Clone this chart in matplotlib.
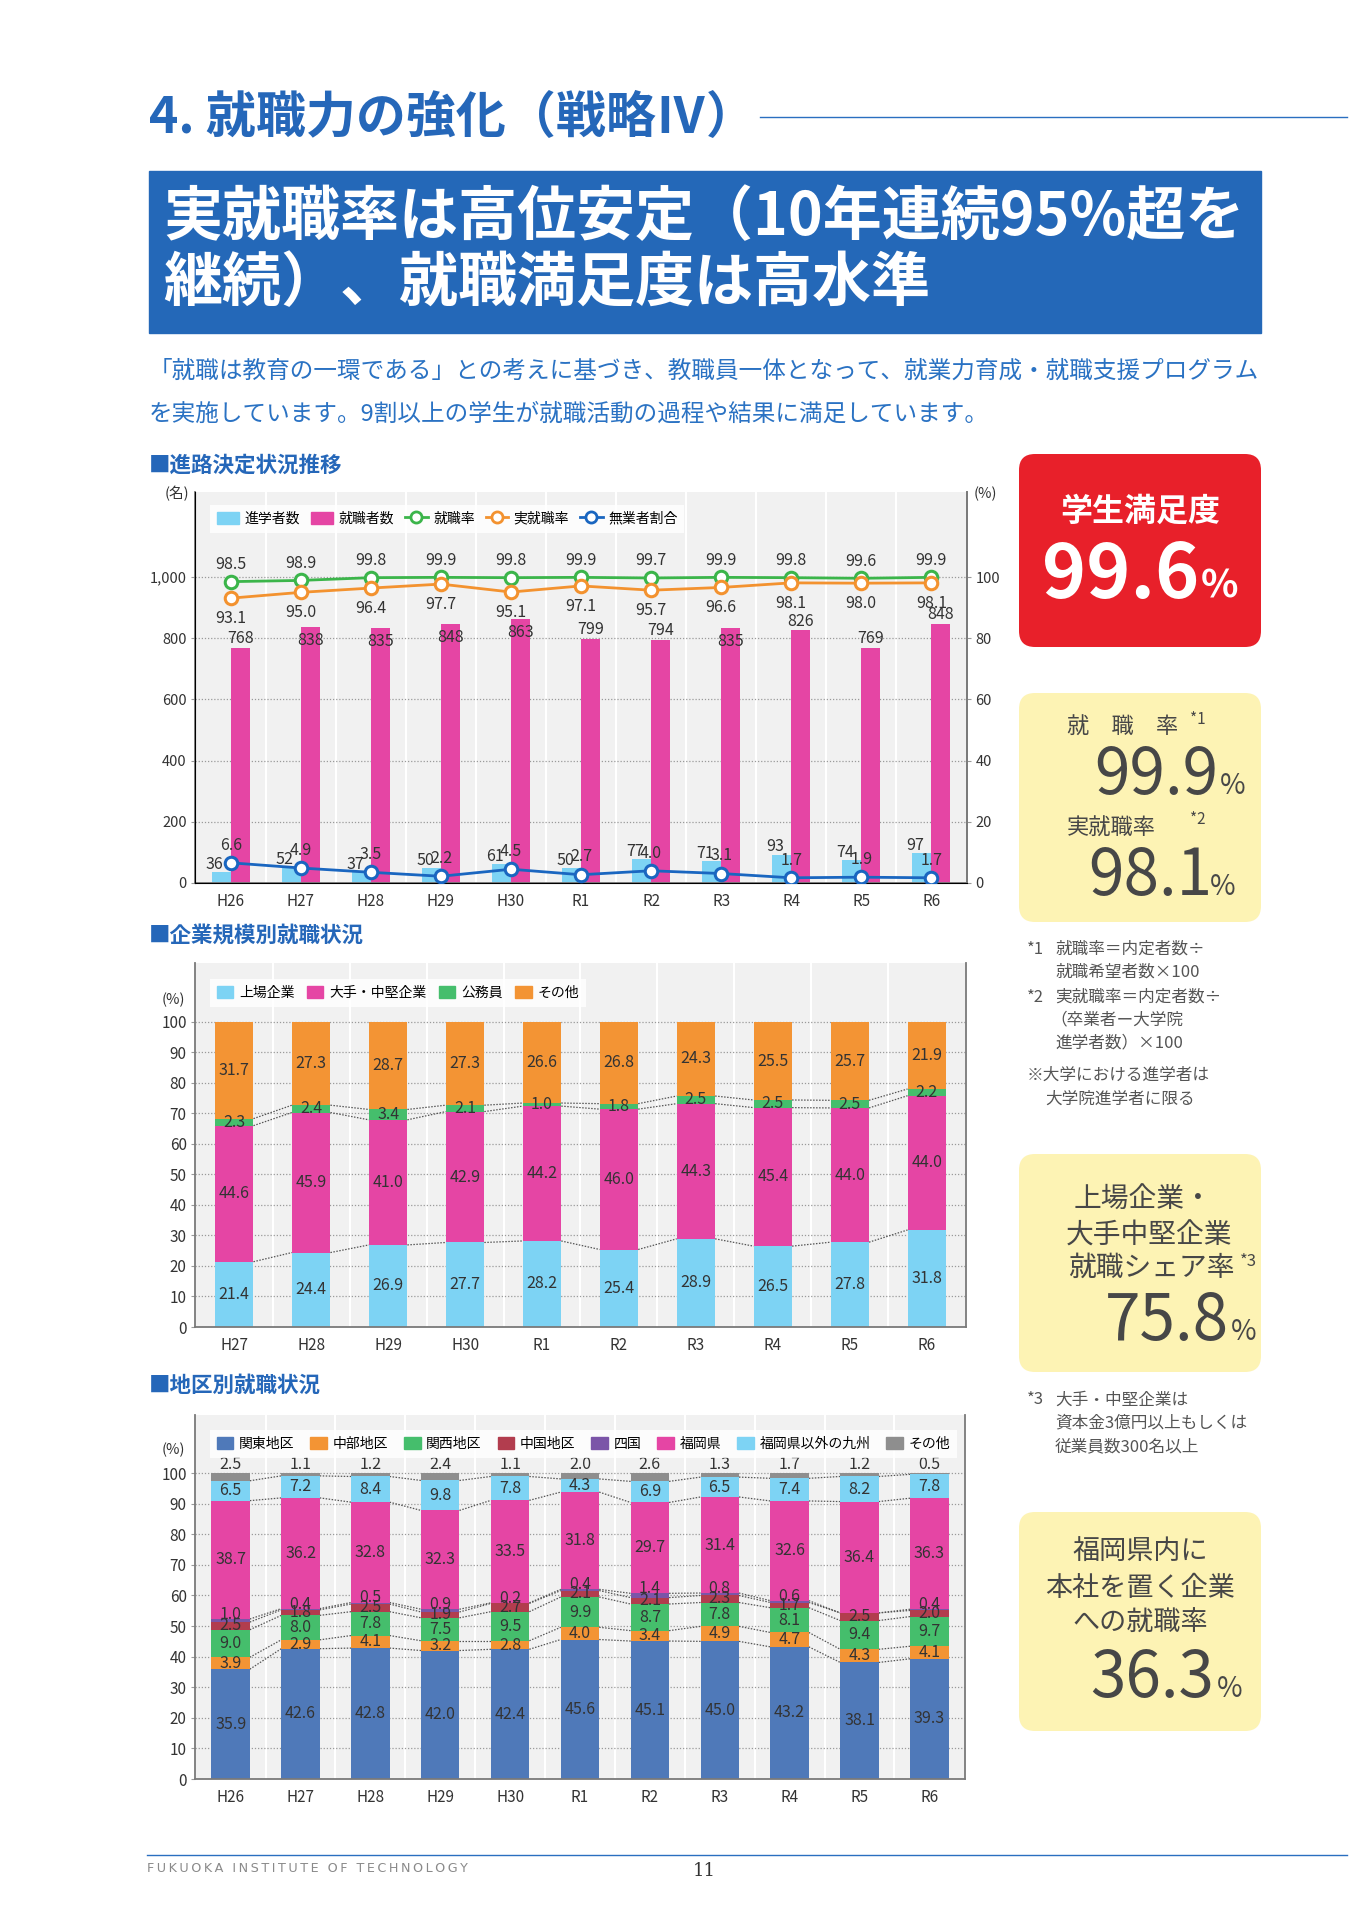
import numpy as np
import matplotlib.pyplot as plt
from matplotlib.patches import FancyBboxPatch, Patch, Rectangle
from matplotlib.lines import Line2D

plt.rcParams['font.family'] = ['Noto Sans CJK JP', 'DejaVu Sans']

# ---- data: 進路決定状況推移 ----
years_a = ['H26', 'H27', 'H28', 'H29', 'H30', 'R1', 'R2', 'R3', 'R4', 'R5', 'R6']
n_grad = [36, 52, 37, 50, 61, 50, 77, 71, 93, 74, 97]
n_employed = [768, 838, 835, 848, 863, 799, 794, 835, 826, 769, 848]
emp_rate = [98.5, 98.9, 99.8, 99.9, 99.8, 99.9, 99.7, 99.9, 99.8, 99.6, 99.9]
real_rate = [93.1, 95.0, 96.4, 97.7, 95.1, 97.1, 95.7, 96.6, 98.1, 98.0, 98.1]
jobless = [6.6, 4.9, 3.5, 2.2, 4.5, 2.7, 4.0, 3.1, 1.7, 1.9, 1.7]

# ---- data: 企業規模別就職状況 ----
years_b = ['H27', 'H28', 'H29', 'H30', 'R1', 'R2', 'R3', 'R4', 'R5', 'R6']
size_names = ['上場企業', '大手・中堅企業', '公務員', 'その他']
size_listed = [21.4, 24.4, 26.9, 27.7, 28.2, 25.4, 28.9, 26.5, 27.8, 31.8]
size_major = [44.6, 45.9, 41.0, 42.9, 44.2, 46.0, 44.3, 45.4, 44.0, 44.0]
size_public = [2.3, 2.4, 3.4, 2.1, 1.0, 1.8, 2.5, 2.5, 2.5, 2.2]
size_other = [31.7, 27.3, 28.7, 27.3, 26.6, 26.8, 24.3, 25.5, 25.7, 21.9]

# ---- data: 地区別就職状況 ----
region_names = ['関東地区', '中部地区', '関西地区', '中国地区', '四国', '福岡県',
                '福岡県以外の九州', 'その他']
kanto = [35.9, 42.6, 42.8, 42.0, 42.4, 45.6, 45.1, 45.0, 43.2, 38.1, 39.3]
chubu = [3.9, 2.9, 4.1, 3.2, 2.8, 4.0, 3.4, 4.9, 4.7, 4.3, 4.1]
kansai = [9.0, 8.0, 7.8, 7.5, 9.5, 9.9, 8.7, 7.8, 8.1, 9.4, 9.7]
chugoku = [2.5, 1.8, 2.5, 1.9, 2.7, 2.1, 2.1, 2.3, 1.7, 2.5, 2.0]
shikoku = [1.0, 0.4, 0.5, 0.9, 0.2, 0.4, 1.4, 0.8, 0.6, 0.0, 0.4]
fukuoka = [38.7, 36.2, 32.8, 32.3, 33.5, 31.8, 29.7, 31.4, 32.6, 36.4, 36.3]
kyushu = [6.5, 7.2, 8.4, 9.8, 7.8, 4.3, 6.9, 6.5, 7.4, 8.2, 7.8]
region_other = [2.5, 1.1, 1.2, 2.4, 1.1, 2.0, 2.6, 1.3, 1.7, 1.2, 0.5]

BLUE = '#2567b9'
LBLUE = '#7dd3f4'
PINK = '#e545a4'
GREEN = '#45be6c'
ORANGE = '#f39434'
TXT = '#333333'

W, H = 1358, 1920
fig = plt.figure(figsize=(W / 100, H / 100), dpi=100)
page = fig.add_axes([0, 0, 1, 1], zorder=0)
page.set_xlim(0, W)
page.set_ylim(H, 0)
page.axis('off')


def px_axes(l, t, r, b):
    return fig.add_axes([l / W, 1 - b / H, (r - l) / W, (b - t) / H], zorder=2)


def style_axes(ax, n, ysize=11):
    ax.set_facecolor('#f1f1f1')
    ax.set_xlim(-0.51, n - 0.49)
    for b in np.arange(n - 1) + 0.5:
        ax.axvline(b, color='white', lw=1.5, zorder=0.3)
    ax.yaxis.grid(True, ls=(0, (1, 1.5)), color='#9a9a9a', lw=0.9)
    ax.set_axisbelow(True)
    ax.spines['top'].set_visible(False)
    for s in ['left', 'bottom', 'right']:
        ax.spines[s].set_color('#7a7a7a')
        ax.spines[s].set_linewidth(1.3)
    ax.tick_params(axis='x', length=0, labelsize=11, pad=7, colors=TXT)
    ax.tick_params(axis='y', length=3, color='#999999', labelsize=ysize,
                   labelcolor=TXT, pad=3)


def connectors(ax, cums, width):
    for c in cums:
        for i in range(len(c) - 1):
            ax.plot([i + width / 2, i + 1 - width / 2], [c[i], c[i + 1]],
                    ls=(0, (1.2, 1.2)), color='#555555', lw=0.9, zorder=1.5)


# ================= chart 1 =================
x = np.arange(len(years_a))
ax1 = px_axes(195, 492, 967, 883)
style_axes(ax1, len(years_a), ysize=10.5)
ax1.bar(x - 0.135, n_grad, width=0.27, color=LBLUE, zorder=2)
ax1.bar(x + 0.135, n_employed, width=0.27, color=PINK, zorder=2)
ax1.set_ylim(0, 1278)
ax1.set_yticks(range(0, 1001, 200))
ax1.set_yticklabels([f'{v:,}' for v in range(0, 1001, 200)])
ax1.set_xticks(x)
ax1.set_xticklabels(years_a)
for i, v in enumerate(n_grad):
    ax1.text(i - 0.1, v + 25, str(v), ha='right', va='center', fontsize=11.5, color=TXT, zorder=5)
for i, v in enumerate(n_employed):
    # put the count inside the bar top when the 実就職率 label sits right above it
    rate_label = (real_rate[i] - 6.6) * 10
    y = v + 30 if rate_label - (v + 30) > 36 else v - 45
    ax1.text(i + 0.135, y, str(v), ha='center', va='center', fontsize=11.5, color=TXT, zorder=5)

ax2 = ax1.twinx()
ax2.set_zorder(3)
ax2.set_ylim(0, 127.8)
ax2.set_yticks(range(0, 101, 20))
ax2.spines['top'].set_visible(False)
ax2.spines['right'].set_color('#7a7a7a')
ax2.spines['right'].set_linewidth(1.3)
ax2.tick_params(axis='y', length=3, color='#999999', labelsize=10.5, labelcolor=TXT, pad=3)

line_styles = [(emp_rate, '#3bb54a', 5.6), (real_rate, '#f3922f', -6.6), (jobless, '#1a66c0', 5.8)]
for vals, col, off in line_styles:
    ax2.plot(x, vals, color=col, lw=2, marker='o', ms=9, mfc='white', mec=col, mew=2.2, zorder=4)
    for i, v in enumerate(vals):
        ax2.text(i, v + off, f'{v:.1f}', ha='center', va='center', fontsize=11.5, color=TXT, zorder=5)

h1 = [Patch(color=LBLUE), Patch(color=PINK),
      Line2D([0], [0], color='#3bb54a', lw=2, marker='o', ms=8, mfc='white', mew=2),
      Line2D([0], [0], color='#f3922f', lw=2, marker='o', ms=8, mfc='white', mew=2),
      Line2D([0], [0], color='#1a66c0', lw=2, marker='o', ms=8, mfc='white', mew=2)]
leg = ax2.legend(h1, ['進学者数', '就職者数', '就職率', '実就職率', '無業者割合'],
                 loc='upper left', bbox_to_anchor=(0.01, 0.985), ncol=5, fontsize=10,
                 frameon=True, fancybox=False, handlelength=1.6, handleheight=0.9,
                 handletextpad=0.4, columnspacing=0.8, borderpad=0.5)
leg.get_frame().set_facecolor('white')
leg.get_frame().set_edgecolor('none')
page.text(177, 494, '(名)', fontsize=10.5, color=TXT, ha='center', va='center')
page.text(985, 494, '(%)', fontsize=10.5, color=TXT, ha='center', va='center')

# ================= chart 2 =================
xb = np.arange(len(years_b))
ax3 = px_axes(195, 963, 966, 1327)
style_axes(ax3, len(years_b))
ax3.set_ylim(0, 119.3)
ax3.set_yticks(range(0, 101, 10))
ax3.set_xticks(xb)
ax3.set_xticklabels(years_b)
size_series = [size_listed, size_major, size_public, size_other]
size_colors = [LBLUE, PINK, GREEN, ORANGE]
bottom = np.zeros(len(years_b))
cums = []
for vals, col in zip(size_series, size_colors):
    v = np.array(vals)
    ax3.bar(xb, v, width=0.5, bottom=bottom, color=col, zorder=2)
    for i in range(len(v)):
        ax3.text(i, bottom[i] + v[i] / 2, f'{v[i]:.1f}', ha='center', va='center',
                 fontsize=11.5, color=TXT, zorder=5)
    bottom = bottom + v
    cums.append(bottom.copy())
connectors(ax3, cums[:-1], 0.5)
leg = ax3.legend([Patch(color=c) for c in size_colors], size_names, loc='upper left',
                 bbox_to_anchor=(0.01, 0.975), ncol=4, fontsize=10, frameon=True,
                 fancybox=False, handlelength=1.2, handleheight=0.9, handletextpad=0.4,
                 columnspacing=0.9, borderpad=0.5)
leg.get_frame().set_facecolor('white')
leg.get_frame().set_edgecolor('none')
page.text(173, 1000, '(%)', fontsize=10.5, color=TXT, ha='center', va='center')

# ================= chart 3 =================
ax4 = px_axes(195, 1415, 965, 1779)
style_axes(ax4, len(years_a))
ax4.set_ylim(0, 119)
ax4.set_yticks(range(0, 101, 10))
ax4.set_xticks(x)
ax4.set_xticklabels(years_a)
region_series = [kanto, chubu, kansai, chugoku, shikoku, fukuoka, kyushu, region_other]
region_colors = ['#4f79b9', ORANGE, GREEN, '#b23d4e', '#7b55a8', PINK, LBLUE, '#8e8e8e']
bottom = np.zeros(len(years_a))
cums = []
for k, (vals, col) in enumerate(zip(region_series, region_colors)):
    v = np.array(vals)
    ax4.bar(x, v, width=0.55, bottom=bottom, color=col, zorder=2)
    for i in range(len(v)):
        if v[i] == 0:
            continue
        if k == 4:
            y = bottom[i] + v[i] + 1.5
        elif k == 7:
            y = 102.8
        else:
            y = bottom[i] + v[i] / 2
        ax4.text(i, y, f'{v[i]:.1f}', ha='center', va='center', fontsize=11.5,
                 color=TXT, zorder=5)
    bottom = bottom + v
    cums.append(bottom.copy())
connectors(ax4, cums[:-1], 0.55)
leg = ax4.legend([Patch(color=c) for c in region_colors], region_names, loc='upper left',
                 bbox_to_anchor=(0.01, 0.978), ncol=8, fontsize=10, frameon=True,
                 fancybox=False, handlelength=1.2, handleheight=0.9, handletextpad=0.4,
                 columnspacing=1.15, borderpad=0.5)
leg.get_frame().set_facecolor('white')
leg.get_frame().set_edgecolor('none')
page.text(173, 1450, '(%)', fontsize=10.5, color=TXT, ha='center', va='center')

# ================= page text =================
page.text(149, 119, '4. 就職力の強化（戦略Ⅳ）', fontsize=36, fontweight='bold',
          color=BLUE, ha='left', va='center')
page.plot([760, 1347], [117, 117], color='#2a6fc0', lw=1)
page.add_patch(Rectangle((149, 171), 1112, 162, color='#2468b8'))
page.text(163, 218, '実就職率は高位安定（10年連続95%超を', fontsize=42.5, fontweight='bold',
          color='white', ha='left', va='center')
page.text(163, 284, '継続）、就職満足度は高水準', fontsize=42.5, fontweight='bold',
          color='white', ha='left', va='center')
page.text(149, 371, '「就職は教育の一環である」との考えに基づき、教職員一体となって、就業力育成・就職支援プログラム',
          fontsize=17, color='#2a72c3', ha='left', va='center')
page.text(149, 414, 'を実施しています。9割以上の学生が就職活動の過程や結果に満足しています。',
          fontsize=17, color='#2a72c3', ha='left', va='center')
for ty, t in [(465, '■進路決定状況推移'), (935, '■企業規模別就職状況'), (1385, '■地区別就職状況')]:
    page.text(149, ty, t, fontsize=15.5, fontweight='bold', color=BLUE, ha='left', va='center')

# right panels
def rbox(x0, y0, x1, y1, col):
    page.add_patch(FancyBboxPatch((x0, y0), x1 - x0, y1 - y0,
                                  boxstyle='round,pad=0,rounding_size=16',
                                  fc=col, ec='none'))

GREY = '#474747'
YEL = '#fdf3b4'
rbox(1019, 454, 1261, 647, '#e8202a')
page.text(1140, 512, '学生満足度', fontsize=23, fontweight='bold', color='white',
          ha='center', va='center')
page.text(1199, 598, '99.6', fontsize=54, fontweight='bold', color='white',
          ha='right', va='baseline')
page.text(1201, 598, '%', fontsize=28, fontweight='bold', color='white',
          ha='left', va='baseline')

rbox(1019, 693, 1261, 922, YEL)
page.text(1067, 727, '就　職　率', fontsize=16, color=GREY, ha='left', va='center')
page.text(1190, 719, '*1', fontsize=11, color=GREY, ha='left', va='center')
page.text(1218, 794, '99.9', fontsize=46, color=GREY, ha='right', va='baseline')
page.text(1220, 794, '%', fontsize=20, color=GREY, ha='left', va='baseline')
page.text(1067, 828, '実就職率', fontsize=16, color=GREY, ha='left', va='center')
page.text(1190, 820, '*2', fontsize=11, color=GREY, ha='left', va='center')
page.text(1212, 895, '98.1', fontsize=46, color=GREY, ha='right', va='baseline')
page.text(1210, 895, '%', fontsize=20, color=GREY, ha='left', va='baseline')

notes = [(1027, 949, '*1'), (1055, 949, '就職率＝内定者数÷'), (1055, 972, '就職希望者数×100'),
         (1027, 997, '*2'), (1055, 997, '実就職率＝内定者数÷'), (1050, 1020, '（卒業者ー大学院'),
         (1055, 1043, '進学者数）×100'), (1027, 1075, '※大学における進学者は'),
         (1045, 1099, '大学院進学者に限る'),
         (1027, 1400, '*3'), (1055, 1400, '大手・中堅企業は'), (1055, 1423, '資本金3億円以上もしくは'),
         (1055, 1447, '従業員数300名以上')]
for nx, ny, t in notes:
    page.text(nx, ny, t, fontsize=12, color='#555555', ha='left', va='center')

rbox(1019, 1154, 1261, 1372, YEL)
page.text(1143, 1200, '上場企業・', fontsize=20, color=GREY, ha='center', va='center')
page.text(1149, 1236, '大手中堅企業', fontsize=20, color=GREY, ha='center', va='center')
page.text(1068, 1268, '就職シェア率', fontsize=20, color=GREY, ha='left', va='center')
page.text(1240, 1262, '*3', fontsize=12, color=GREY, ha='left', va='center')
page.text(1229, 1340, '75.8', fontsize=46, color=GREY, ha='right', va='baseline')
page.text(1231, 1340, '%', fontsize=20, color=GREY, ha='left', va='baseline')

rbox(1019, 1512, 1261, 1731, YEL)
page.text(1140, 1552, '福岡県内に', fontsize=19.5, color=GREY, ha='center', va='center')
page.text(1140, 1588, '本社を置く企業', fontsize=19.5, color=GREY, ha='center', va='center')
page.text(1140, 1623, 'への就職率', fontsize=19.5, color=GREY, ha='center', va='center')
page.text(1214, 1697, '36.3', fontsize=46, color=GREY, ha='right', va='baseline')
page.text(1217, 1697, '%', fontsize=20, color=GREY, ha='left', va='baseline')

# footer
page.plot([147, 1347], [1855, 1855], color='#2a6fc0', lw=1)
page.text(147, 1868, '\u2009'.join('FUKUOKA INSTITUTE OF TECHNOLOGY'), fontsize=9.2,
          color='#8a8a8a', ha='left', va='center', family=['DejaVu Sans'])
page.text(704, 1871, '11', fontsize=13, color='#333333', ha='center', va='center',
          family='DejaVu Serif')

fig.savefig('out.png', dpi=100)
